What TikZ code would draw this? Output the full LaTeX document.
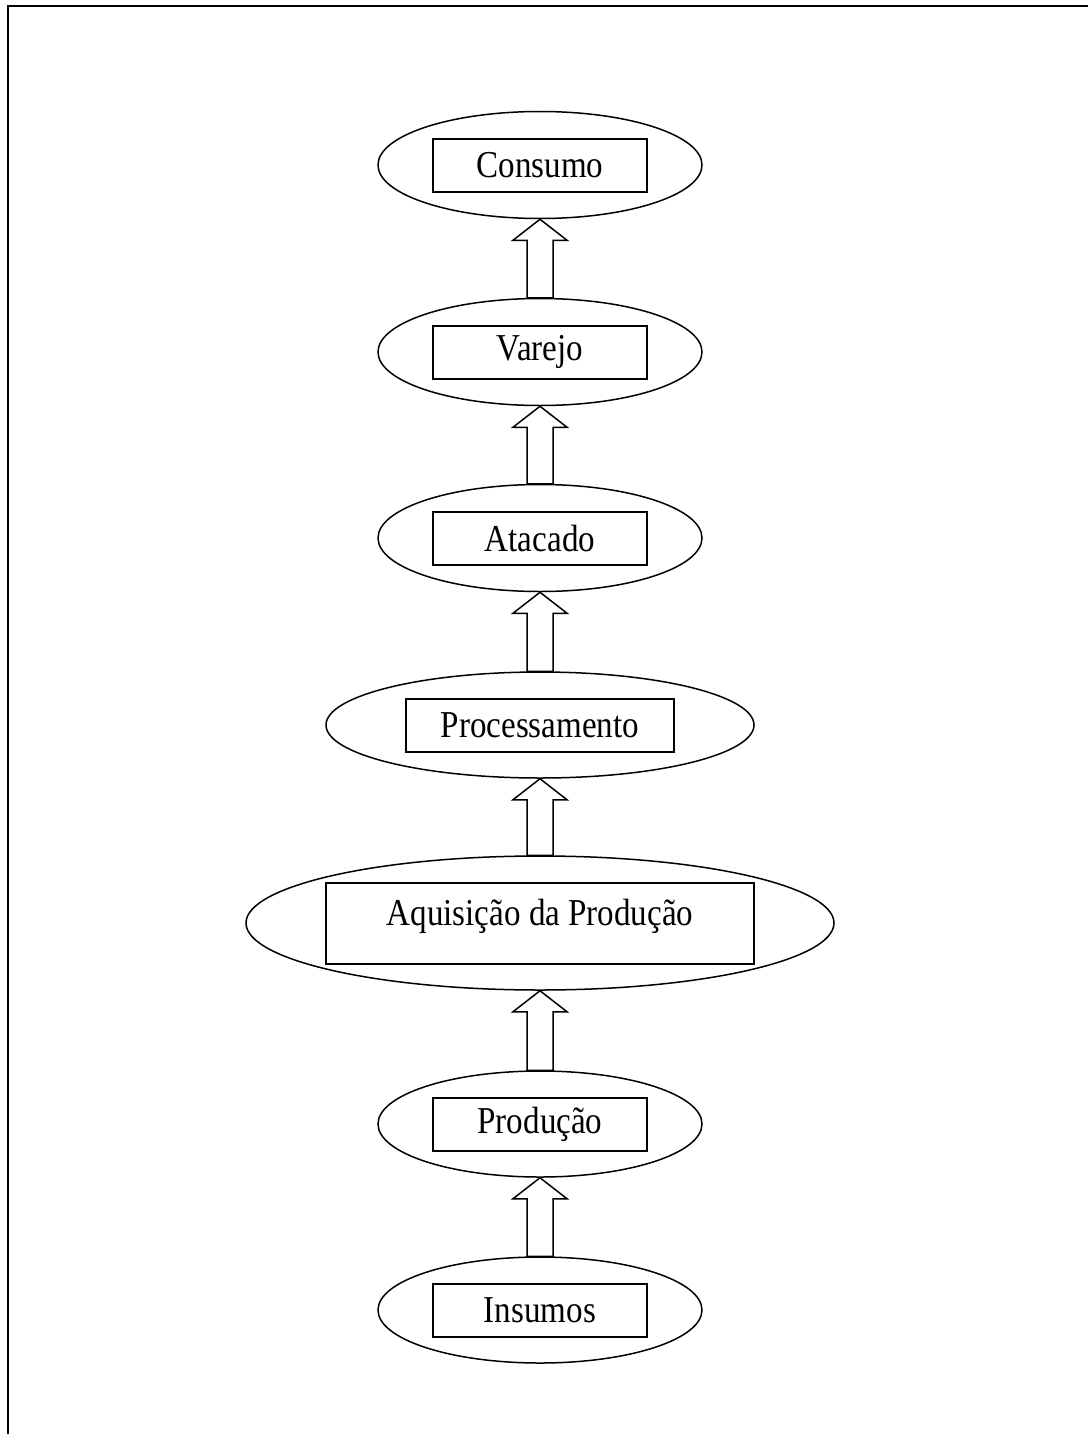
\documentclass[tikz,border=0pt]{standalone}
\usepackage{fontspec}
\setmainfont[FakeStretch=0.87]{Liberation Serif}
\usetikzlibrary{shapes.geometric,calc}
\tikzset{
  elo/.style={draw, ellipse, inner sep=0pt, line width=0.75pt},
  caixa/.style={draw, rectangle, inner sep=0pt, line width=1pt, font=\fontsize{19}{22}\selectfont},
  seta/.style={line width=0.75pt, fill=white}
}
% block arrow from the lower node #1 up to the upper node #2
\newcommand{\setabloco}[2]{%
  \draw[seta] let \p1=(#1.north), \p2=(#2.south) in
    (\x1-6.5pt,\y1) -- (\x1-6.5pt,\y2+10.5pt) -- (\x1-13.5pt,\y2+10.5pt) -- (\x1,\y2)
    -- (\x1+13.5pt,\y2+10.5pt) -- (\x1+6.5pt,\y2+10.5pt) -- (\x1+6.5pt,\y1) -- cycle;}
\begin{document}
\begin{tikzpicture}[x=0.5pt,y=0.5pt,yscale=-1,xscale=1]
\useasboundingbox (0,0) rectangle (1088,1434);

%Frame
\draw [line width=1pt] (8,1434) -- (8,6) -- (1088,6);

%Shape: Ellipse
\node [elo, minimum width=162pt, minimum height=53.5pt] (consumo) at (540,165) {};
\node [elo, minimum width=162pt, minimum height=53.5pt] (varejo) at (540,352) {};
\node [elo, minimum width=162pt, minimum height=53.5pt] (atacado) at (540,538) {};
\node [elo, minimum width=214pt, minimum height=53pt] (processamento) at (540,725) {};
\node [elo, minimum width=294pt, minimum height=67pt] (aquisicao) at (540,923) {};
\node [elo, minimum width=162pt, minimum height=53pt] (producao) at (540,1124) {};
\node [elo, minimum width=162pt, minimum height=53pt] (insumos) at (540,1310) {};

% Text Node
\node [caixa, minimum width=107pt, minimum height=26.5pt] (cx consumo) at (consumo) {Consumo};
\node [caixa, minimum width=107pt, minimum height=26.5pt] (cx varejo) at (varejo) {Varejo};
\node [caixa, minimum width=107pt, minimum height=26.5pt] (cx atacado) at (atacado) {Atacado};
\node [caixa, minimum width=134pt, minimum height=26.5pt] (cx processamento) at (processamento) {Processamento};
\node [caixa, minimum width=214pt, minimum height=40.5pt, text depth=11pt] (cx aquisicao) at (aquisicao) {Aquisição da Produção};
\node [caixa, minimum width=107pt, minimum height=26.5pt] (cx producao) at (producao) {Produção};
\node [caixa, minimum width=107pt, minimum height=26.5pt] (cx insumos) at (insumos) {Insumos};

%Block arrows
\setabloco{varejo}{consumo}
\setabloco{atacado}{varejo}
\setabloco{processamento}{atacado}
\setabloco{aquisicao}{processamento}
\setabloco{producao}{aquisicao}
\setabloco{insumos}{producao}

\end{tikzpicture}
\end{document}
